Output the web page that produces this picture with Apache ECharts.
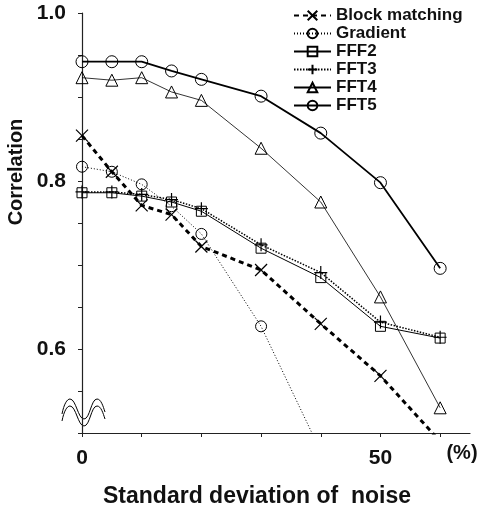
<!DOCTYPE html>
<html>
<head>
<meta charset="utf-8">
<script src="https://cdn.jsdelivr.net/npm/echarts@6/dist/echarts.min.js"></script>
<style>html,body{margin:0;padding:0;background:#fff;}#c{width:483px;height:508px;}</style>
</head>
<body>
<div id="c"></div>
<script>
// ---- data ----
const noiseLevels = [0, 5, 10, 15, 20, 30, 40, 50, 60];
const blockMatching = [0.854, 0.811, 0.771, 0.760, 0.722, 0.694, 0.630, 0.568, 0.490];
const gradient = [0.817, 0.811, 0.796, 0.770, 0.737, 0.627, 0.478];
const fff2 = [0.786, 0.786, 0.782, 0.775, 0.764, 0.720, 0.685, 0.627, 0.613];
const fft3 = [0.787, 0.787, 0.784, 0.778, 0.767, 0.724, 0.691, 0.632, 0.614];
const fft4 = [0.923, 0.920, 0.923, 0.906, 0.896, 0.839, 0.775, 0.662, 0.530];
const fft5 = [0.942, 0.942, 0.942, 0.931, 0.921, 0.901, 0.857, 0.798, 0.696];
const seriesNames = ['Block matching', 'Gradient', 'FFF2', 'FFT3', 'FFT4', 'FFT5'];
const xTickValues = [0, 10, 20, 30, 40, 50, 60];
const xLabelValues = [0, 50];
const yTickValues = [0.5, 0.55, 0.6, 0.65, 0.7, 0.75, 0.8, 0.85, 0.9, 0.95, 1.0];
const yLabelValues = [0.6, 0.8, 1.0];
const yLabelTexts = ['0.6', '0.8', '1.0'];
const xTitle = 'Standard deviation of  noise';
const yTitle = 'Correlation';
const unitLabel = '(%)';

const pairs = arr => arr.map((v, i) => [noiseLevels[i], v]);
const FONT = '"Liberation Sans", Arial, Helvetica, sans-serif';
const hollow = { color: 'rgba(0,0,0,0)', borderColor: '#000', borderWidth: 1 };

// axis-break decoration (two wavy lines), drawn as bezier pieces
function wave(dy) {
  const segs = [
    [62, 414, 64, 404, 67, 399, 70, 399],
    [70, 399, 76, 399, 78, 419, 84, 419],
    [84, 419, 90, 419, 91, 399, 97, 399],
    [97, 399, 101, 399, 103, 406, 105, 412]
  ];
  return segs.map(s => ({
    type: 'bezierCurve',
    shape: { x1: s[0], y1: s[1] + dy, cpx1: s[2], cpy1: s[3] + dy, cpx2: s[4], cpy2: s[5] + dy, x2: s[6], y2: s[7] + dy },
    style: { fill: 'none', stroke: '#000', lineWidth: 1 }
  }));
}

const chart = echarts.init(document.getElementById('c'), null, { renderer: 'canvas' });
chart.setOption({
  backgroundColor: '#fff',
  animation: false,
  grid: { left: 82, right: 13, top: 13, bottom: 75, containLabel: false },
  xAxis: {
    type: 'value', min: 0, max: 65,
    axisLine: { show: true, lineStyle: { color: '#222', width: 1.2 } },
    axisTick: { show: true, inside: false, length: 4, customValues: xTickValues, lineStyle: { color: '#222' } },
    axisLabel: { customValues: xLabelValues, margin: 15, fontFamily: FONT, fontWeight: 'bold', fontSize: 21, color: '#111' },
    splitLine: { show: false }
  },
  yAxis: {
    type: 'value', min: 0.5, max: 1.0,
    axisLine: { show: true, lineStyle: { color: '#222', width: 1.2 } },
    axisTick: { show: true, inside: false, length: 4, customValues: yTickValues, lineStyle: { color: '#222' } },
    axisLabel: {
      customValues: yLabelValues, margin: 16, fontFamily: FONT, fontWeight: 'bold', fontSize: 21, color: '#111',
      formatter: v => { const i = yLabelValues.findIndex(t => Math.abs(t - v) < 1e-6); return i >= 0 ? yLabelTexts[i] : ''; }
    },
    splitLine: { show: false }
  },
  legend: {
    orient: 'vertical', left: 293, top: 7, padding: 0,
    itemWidth: 37, itemHeight: 12, itemGap: 1,
    data: seriesNames,
    textStyle: { fontFamily: FONT, fontWeight: 'bold', fontSize: 17, color: '#111', lineHeight: 17 }
  },
  series: [
    { name: seriesNames[0], type: 'line', data: pairs(blockMatching), clip: true,
      symbol: 'path://M0,0L10,10M10,0L0,10', symbolSize: 12,
      itemStyle: { color: '#000', borderColor: '#000', borderWidth: 1.2 },
      lineStyle: { color: '#000', width: 3, type: [5, 4] } },
    { name: seriesNames[1], type: 'line', data: pairs(gradient), clip: true,
      symbol: 'circle', symbolSize: 11, itemStyle: hollow,
      lineStyle: { color: '#000', width: 1, type: [1, 2] } },
    { name: seriesNames[2], type: 'line', data: pairs(fff2), clip: true,
      symbol: 'rect', symbolSize: 10, itemStyle: hollow,
      lineStyle: { color: '#000', width: 1 } },
    { name: seriesNames[3], type: 'line', data: pairs(fft3), clip: true,
      symbol: 'path://M5,0L5,10M0,5L10,5', symbolSize: 13,
      itemStyle: { color: '#000', borderColor: '#000', borderWidth: 1.2 },
      lineStyle: { color: '#000', width: 1.5, type: [1.5, 1.5] } },
    { name: seriesNames[4], type: 'line', data: pairs(fft4), clip: true,
      symbol: 'triangle', symbolSize: 12, itemStyle: hollow,
      lineStyle: { color: '#000', width: 0.8 } },
    { name: seriesNames[5], type: 'line', data: pairs(fft5), clip: true,
      symbol: 'circle', symbolSize: 12, itemStyle: hollow,
      lineStyle: { color: '#000', width: 1.8 } }
  ],
  graphic: [
    { type: 'text', x: 16, y: 172, rotation: Math.PI / 2,
      style: { text: yTitle, fontFamily: FONT, fontWeight: 'bold', fontSize: 20, fill: '#111', align: 'center', verticalAlign: 'middle' } },
    { type: 'text', x: 257, y: 497,
      style: { text: xTitle, fontFamily: FONT, fontWeight: 'bold', fontSize: 23, fill: '#111', align: 'center', verticalAlign: 'middle' } },
    { type: 'text', x: 462, y: 453,
      style: { text: unitLabel, fontFamily: FONT, fontWeight: 'bold', fontSize: 20, fill: '#111', align: 'center', verticalAlign: 'middle' } }
  ].concat(wave(0), wave(7))
});
</script>
</body>
</html>
